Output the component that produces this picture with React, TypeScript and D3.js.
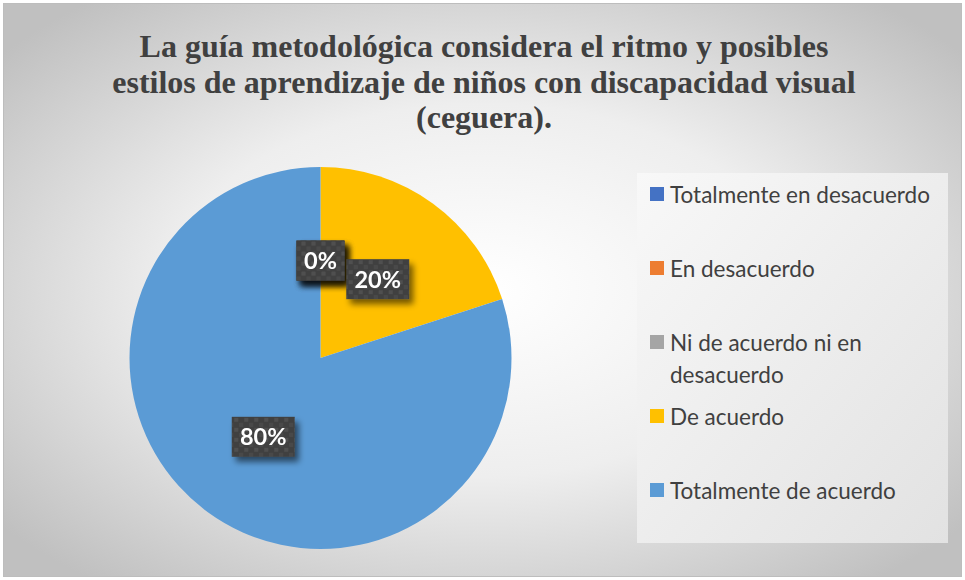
import React from "react";
import * as d3 from "d3";

const TITLE_LINES = [
  "La guía metodológica considera el ritmo y posibles",
  "estilos de aprendizaje de niños con discapacidad visual",
  "(ceguera).",
];
const CATEGORIES = [
  "Totalmente en desacuerdo",
  "En desacuerdo",
  "Ni de acuerdo ni en desacuerdo",
  "De acuerdo",
  "Totalmente de acuerdo",
];
const VALUES = [0, 0, 0, 20, 80];
const COLORS = ["#4472c4", "#ed7d31", "#a5a5a5", "#ffc000", "#5b9bd5"];
const LEGEND_LINES = [
  ["Totalmente en desacuerdo"],
  ["En desacuerdo"],
  ["Ni de acuerdo ni en", "desacuerdo"],
  ["De acuerdo"],
  ["Totalmente de acuerdo"],
];

const W = 965;
const H = 580;

export default function App() {
  const cx = 320.5;
  const cy = 358;
  const R = 191;
  const pie = d3.pie<number>().sort(null).value((d) => d)(VALUES);
  const arc = d3.arc<d3.PieArcDatum<number>>().innerRadius(0).outerRadius(R);
  const labelArc = d3.arc<d3.PieArcDatum<number>>().innerRadius(R * 1.02).outerRadius(R * 0.0);
  const total = d3.sum(VALUES);
  const fmt = (v: number) => `${Math.round((v / total) * 100)}%`;

  const legendY = [195, 269, 343, 417, 491];
  const font = "Lato, 'Open Sans', sans-serif";

  return (
    <svg width={W} height={H} style={{ position: "absolute", left: 0, top: 0 }}>
      <defs>
        <radialGradient id="bg" cx="50%" cy="50%" r="65%">
          <stop offset="0%" stopColor="#ffffff" />
          <stop offset="50%" stopColor="#eeeeee" />
          <stop offset="100%" stopColor="#c0c0c0" />
        </radialGradient>
        <linearGradient id="lg" x1="0" y1="0" x2="1" y2="1">
          <stop offset="0%" stopColor="#f8f8f8" />
          <stop offset="100%" stopColor="#e2e2e2" />
        </linearGradient>
        <pattern id="chk" width="10" height="10" patternUnits="userSpaceOnUse">
          <rect width="10" height="10" fill="#404040" />
          <rect x="1" y="1" width="4" height="4" fill="#4f4f4f" />
          <rect x="6" y="6" width="4" height="4" fill="#4a4a4a" />
        </pattern>
        <filter id="sh" x="-30%" y="-30%" width="170%" height="170%">
          <feGaussianBlur in="SourceAlpha" stdDeviation="3" />
          <feOffset dx="4" dy="5" result="b" />
          <feComponentTransfer>
            <feFuncA type="linear" slope="0.55" />
          </feComponentTransfer>
          <feMerge>
            <feMergeNode />
            <feMergeNode in="SourceGraphic" />
          </feMerge>
        </filter>
      </defs>
      <rect x={0} y={0} width={W} height={H} fill="#ffffff" />
      <rect x={3.5} y={3.5} width={958} height={573} fill="url(#bg)" stroke="#bdbdbd" strokeWidth={1} />
      {TITLE_LINES.map((t, i) => (
        <text
          key={i}
          x={484}
          y={57 + i * 35.5}
          textAnchor="middle"
          fontFamily="'Liberation Serif', 'Times New Roman', serif"
          fontWeight="bold"
          fontSize={32}
          fill="#404040"
        >
          {t}
        </text>
      ))}
      <g transform={`translate(${cx},${cy})`}>
        {pie.map((p, i) => (
          <path key={i} d={arc(p) || ""} fill={COLORS[i]} />
        ))}
        {pie.map((p, i) => {
          const [lx, ly] = labelArc.centroid(p);
          const txt = fmt(p.data);
          const w = txt.length === 2 ? 48 : 63;
          const h = 40;
          return (
            <g key={"l" + i} transform={`translate(${lx},${ly})`} filter="url(#sh)">
              <rect x={-w / 2} y={-h / 2} width={w} height={h} fill="url(#chk)" />
              <text
                x={0}
                y={8.5}
                textAnchor="middle"
                fontFamily={font}
                fontWeight="bold"
                fontSize={23.5}
                fill="#ffffff"
              >
                {txt}
              </text>
            </g>
          );
        })}
      </g>
      <rect x={637} y={173} width={311} height={370} fill="url(#lg)" />
      {CATEGORIES.map((c, i) => (
        <g key={c}>
          <rect x={650} y={legendY[i] - 8} width={14} height={14} fill={COLORS[i]} />
          {LEGEND_LINES[i].map((ln, j) => (
            <text
              key={j}
              x={670}
              y={legendY[i] + 8 + j * 32}
              fontFamily={font}
              fontSize={22.5}
              fill="#404040"
            >
              {ln}
            </text>
          ))}
        </g>
      ))}
    </svg>
  );
}
